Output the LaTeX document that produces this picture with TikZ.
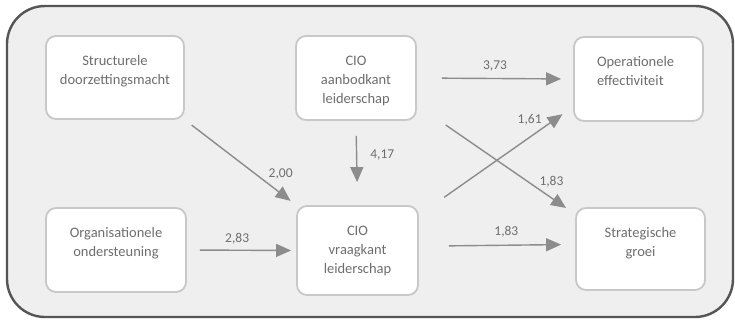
\documentclass[tikz,border=0pt]{standalone}
\usepackage{fontspec}
\setmainfont{Carlito}
\usetikzlibrary{arrows.meta}
\definecolor{framegray}{HTML}{555555}
\definecolor{panelgray}{HTML}{EFEFEF}
\definecolor{boxline}{HTML}{C8C8C8}
\definecolor{txtgray}{HTML}{6E6E6E}
\definecolor{arrowgray}{HTML}{8C8C8C}
\newcommand{\boxtxt}[4][\centering]{\parbox[c][#3][t]{#2}{#1\rule{0pt}{29pt}#4}}
\begin{document}
\begin{tikzpicture}[x=1pt,y=-1pt,
  box/.style={draw=boxline,line width=1.8pt,fill=white,rounded corners=10pt,inner sep=0pt,text=txtgray,font=\fontsize{14.5}{19}\selectfont},
  link/.style={draw=arrowgray,line width=1.4pt,-{Triangle[length=15pt,width=13pt]}},
  lbl/.style={text=txtgray,inner sep=0pt,font=\fontsize{13.5}{16}\selectfont}]
\useasboundingbox (0,0) rectangle (735,322);
\draw[framegray,line width=2.4pt,fill=panelgray,rounded corners=38pt] (7,6) rectangle (733,317);

\node[box] (sd) at (115,77.5) {\boxtxt{138pt}{83pt}{Structurele\\doorzettingsmacht}};
\node[box] (cs) at (356,78) {\boxtxt{120pt}{84pt}{CIO\\aanbodkant\\leiderschap}};
\node[box] (oe) at (638.5,79) {\boxtxt[\raggedright\leftskip=23pt]{129pt}{84pt}{Operationele\\effectiviteit}};
\node[box] (os) at (116,250) {\boxtxt{140pt}{84pt}{Organisationele\\ondersteuning}};
\node[box] (cd) at (357.5,250.5) {\boxtxt{121pt}{89pt}{CIO\\vraagkant\\leiderschap}};
\node[box] (sg) at (640.5,249) {\boxtxt{129pt}{82pt}{Strategische\\groei}};

\draw[link,shorten <=25pt,shorten >=12pt] (cs.east) -- node[lbl,above=7pt,pos=.5] {3,73} (oe.west);
\draw[link,shorten <=15pt,shorten >=23pt] (cs.south) -- node[lbl,right=13pt,pos=.41] {4,17} (cd.north);
\draw[link,shorten <=8.5pt,shorten >=7pt] (sd.south east) -- node[lbl,pos=.78,xshift=9pt,yshift=12pt] {2,00} (cd.north west);
\draw[link,shorten <=13pt,shorten >=5pt] (os.east) -- node[lbl,above=5pt,pos=.46] {2,83} (cd.west);
\draw[link,shorten <=31pt,shorten >=13pt] (cd.30) -- node[lbl,pos=.77,xshift=-8pt,yshift=12pt] {1,61} (oe.203);
\draw[link,shorten <=35pt,shorten >=11pt] (cs.-24) -- node[lbl,pos=.8,xshift=8pt,yshift=11pt] {1,83} (sg.152);
\draw[link,shorten <=30pt,shorten >=14pt] (cd.4) -- node[lbl,above=7pt,pos=.56] {1,83} (sg.176);
\end{tikzpicture}
\end{document}
